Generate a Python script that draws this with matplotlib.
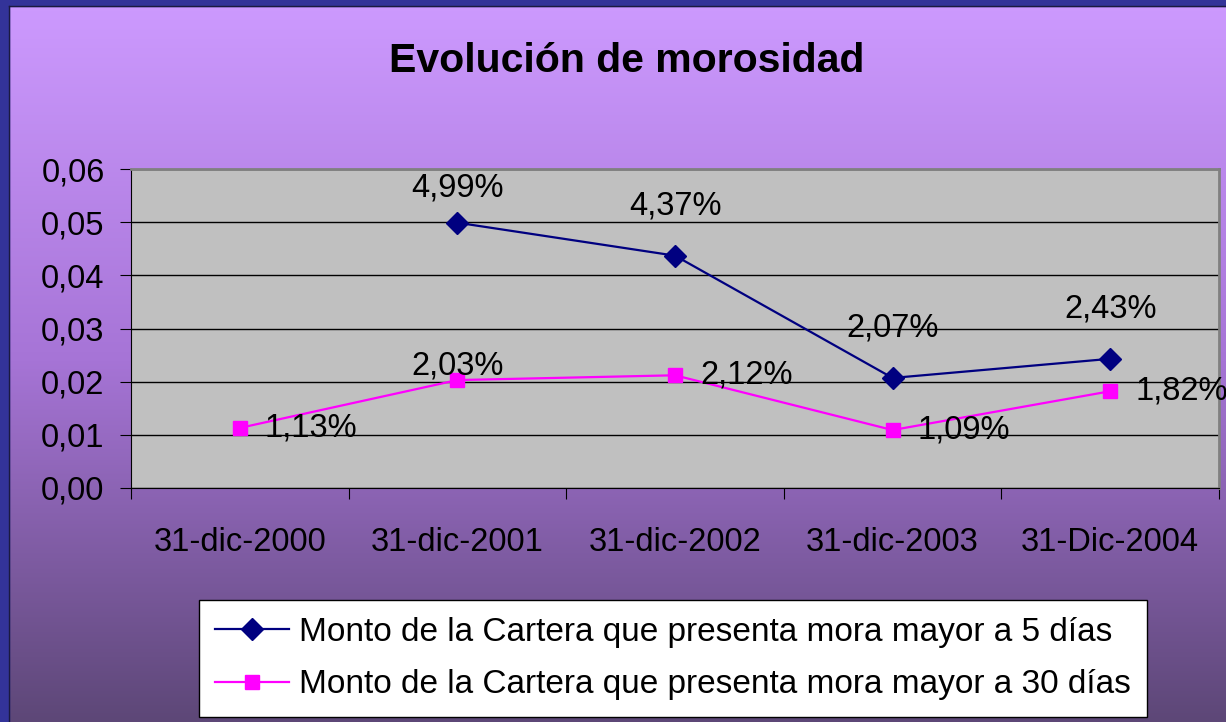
import numpy as np
import matplotlib.pyplot as plt
from matplotlib.patches import Rectangle
from matplotlib.colors import LinearSegmentedColormap

plt.rcParams['font.family'] = ['Liberation Sans', 'DejaVu Sans']

categories = ['31-dic-2000', '31-dic-2001', '31-dic-2002', '31-dic-2003', '31-Dic-2004']
mora_5 = [np.nan, 0.0499, 0.0437, 0.0207, 0.0243]
mora_30 = [0.0113, 0.0203, 0.0212, 0.0109, 0.0182]
label_5 = ['', '4,99%', '4,37%', '2,07%', '2,43%']
label_30 = ['1,13%', '2,03%', '2,12%', '1,09%', '1,82%']
# vertical offset (pt) of the 5-day labels above their points
off_5 = [0, 25, 36, 36, 36]
# where the 30-day labels sit: 'r' = right of point, 'a' = above
pos_30 = ['r', 'a', 'r', 'r', 'r']

fs = 23.5

fig = plt.figure(figsize=(12.26, 7.22), dpi=100)

# gradient background
bg = fig.add_axes([0, 0, 1, 1], zorder=-10)
cmap = LinearSegmentedColormap.from_list('bg', ['#CD9AFF', '#A674D6', '#5D4777'])
grad = np.linspace(0, 1, 256).reshape(-1, 1)
bg.imshow(grad, aspect='auto', cmap=cmap, extent=[0, 1, 0, 1], origin='upper')
bg.set_xlim(0, 1)
bg.set_ylim(0, 1)
bg.axis('off')
# dark blue frame (left and top)
bg.add_patch(Rectangle((0, 0), 9 / 1226, 1, color='#333399', transform=fig.transFigure))
bg.add_patch(Rectangle((0, 1 - 6 / 722), 1, 6 / 722, color='#333399', transform=fig.transFigure))
bg.plot([9 / 1226, 9 / 1226], [0, 1 - 6 / 722], color='#1a1a40', lw=1, transform=fig.transFigure)
bg.plot([9 / 1226, 1], [1 - 6 / 722, 1 - 6 / 722], color='#1a1a40', lw=1, transform=fig.transFigure)

ax = fig.add_axes([131 / 1226, 1 - 488 / 722, (1219 - 131) / 1226, (488 - 169) / 722])
ax.set_facecolor('#C0C0C0')

x = np.arange(len(categories))
ax.plot(x, mora_5, color='#000080', lw=1.6, marker='D', ms=11, markeredgecolor='#000080',
        label='Monto de la Cartera que presenta mora mayor a 5 días', zorder=3)
ax.plot(x, mora_30, color='#FF00FF', lw=1.6, marker='s', ms=10.5, markeredgecolor='#FF00FF',
        label='Monto de la Cartera que presenta mora mayor a 30 días', zorder=3)

for i, t in enumerate(label_5):
    if t:
        ax.annotate(t, (x[i], mora_5[i]), xytext=(0, off_5[i]), textcoords='offset points',
                    ha='center', va='center', fontsize=fs)
for i, t in enumerate(label_30):
    if pos_30[i] == 'a':
        ax.annotate(t, (x[i], mora_30[i]), xytext=(0, 10), textcoords='offset points',
                    ha='center', va='center', fontsize=fs)
    else:
        ax.annotate(t, (x[i], mora_30[i]), xytext=(18, 0), textcoords='offset points',
                    ha='left', va='center', fontsize=fs, annotation_clip=False)

ax.set_xlim(-0.5, len(categories) - 0.5)
ax.set_ylim(0, 0.06)
ax.set_yticks(np.arange(0, 0.061, 0.01))
ax.set_yticklabels([f'{v:.2f}'.replace('.', ',') for v in np.arange(0, 0.061, 0.01)])
ax.yaxis.grid(True, color='black', lw=1)
ax.set_axisbelow(True)
ax.set_xticks(np.arange(-0.5, len(categories), 1.0))
ax.set_xticklabels([])
ax.set_xticks(x, minor=True)
ax.set_xticklabels(categories, minor=True)
ax.tick_params(axis='x', which='minor', length=0, pad=28, labelsize=fs)
ax.tick_params(axis='x', which='major', length=8, direction='out', color='black')
ax.tick_params(axis='y', length=8, direction='out', labelsize=fs, pad=11)
for s in ['left', 'bottom']:
    ax.spines[s].set_color('black')
for s in ['top', 'right']:
    ax.spines[s].set_color('#808080')
    ax.spines[s].set_linewidth(2)

fig.text(0.511, 1 - 61 / 722, 'Evolución de morosidad', ha='center', va='center',
         fontsize=29.5, fontweight='bold')

leg = fig.legend(loc='upper center', bbox_to_anchor=(673 / 1226, 1 - 600 / 722),
                 fontsize=24, frameon=True, fancybox=False, edgecolor='black',
                 framealpha=1, handlelength=2.2, borderpad=0.5, labelspacing=0.65,
                 handletextpad=0.3, borderaxespad=0)
leg.get_frame().set_linewidth(1)

fig.savefig('out.png', dpi=100)
